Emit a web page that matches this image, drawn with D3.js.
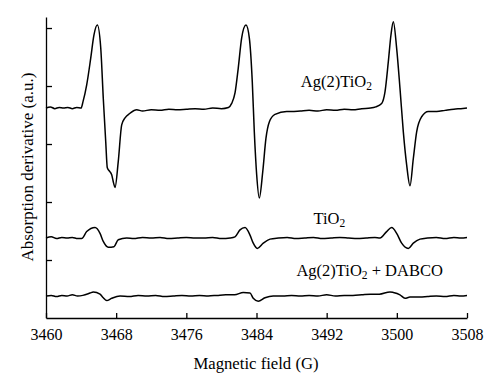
<!DOCTYPE html>
<html>
<head>
<meta charset="utf-8">
<script src="https://cdn.jsdelivr.net/npm/d3@7"></script>
<style>
  body { margin: 0; background: #fff; }
  text { font-family: "Liberation Serif", "Times New Roman", serif; fill: #000; }
  .axis path, .axis line { stroke: #000; stroke-width: 1.3; }
  .line { fill: none; stroke: #000; stroke-width: 1.5; stroke-linejoin: round; }
</style>
</head>
<body>
<script>
// x tick labels (G)
var xTicks = [3460, 3468, 3476, 3484, 3492, 3500, 3508];
// y ticks have no labels in the original (arbitrary units)
var yTicks = [1, 2, 3, 4, 5];

// spectra: [field (G), signal (a.u.)]
var agTiO2 = [
  [3460, 3.62], [3460.5, 3.64], [3461, 3.61], [3461.5, 3.63], [3462, 3.62], [3462.5, 3.63],
  [3463, 3.61], [3463.5, 3.63], [3464, 3.62], [3464.22, 3.73], [3464.64, 4.02], [3465.10, 4.48],
  [3465.47, 4.88], [3465.85, 5.05], [3466.24, 4.66], [3466.53, 3.79], [3466.81, 3.04], [3466.99, 2.59],
  [3467.30, 2.52], [3467.49, 2.47], [3467.70, 2.33], [3467.87, 2.25], [3468.24, 2.70], [3468.63, 3.33],
  [3469.01, 3.45], [3469.58, 3.53], [3470.34, 3.59], [3471, 3.57], [3472, 3.59], [3473, 3.58],
  [3474, 3.60], [3475, 3.59], [3476, 3.60], [3477, 3.61], [3478, 3.60], [3479, 3.62], [3480, 3.61],
  [3480.8, 3.63], [3481.17, 3.70], [3481.55, 3.88], [3481.92, 4.31], [3482.31, 4.83], [3482.80, 5.05],
  [3483.18, 4.83], [3483.52, 4.07], [3483.75, 3.21], [3484.02, 2.47], [3484.32, 2.07], [3484.71, 2.52],
  [3485.08, 3.10], [3485.46, 3.38], [3486.11, 3.51], [3487.44, 3.56], [3488, 3.56], [3489, 3.57],
  [3490, 3.58], [3491, 3.57], [3492, 3.59], [3493, 3.58], [3494, 3.60], [3495, 3.59], [3496, 3.61],
  [3497, 3.62], [3497.6, 3.64], [3498.27, 3.70], [3498.65, 3.90], [3499.03, 4.42], [3499.33, 4.88],
  [3499.60, 5.11], [3499.98, 4.65], [3500.36, 3.96], [3500.74, 3.21], [3501.12, 2.64], [3501.50, 2.28],
  [3501.88, 2.75], [3502.26, 3.21], [3502.83, 3.47], [3503.59, 3.56], [3504.55, 3.56], [3505.5, 3.58],
  [3506.5, 3.60], [3507.3, 3.61], [3508, 3.62]
];

var tiO2 = [
  [3460, 1.38], [3460.6, 1.40], [3461.2, 1.37], [3461.8, 1.39], [3462.4, 1.38], [3463, 1.39],
  [3463.6, 1.37], [3464.07, 1.37], [3464.64, 1.49], [3465.59, 1.56], [3466.16, 1.46], [3466.53, 1.32],
  [3467.10, 1.22], [3467.75, 1.23], [3468.24, 1.35], [3469.20, 1.38], [3470, 1.37], [3471, 1.39],
  [3472, 1.38], [3473, 1.39], [3474, 1.37], [3475, 1.38], [3476, 1.39], [3477, 1.38], [3478, 1.38],
  [3479, 1.39], [3480, 1.37], [3481, 1.38], [3481.55, 1.40], [3482.12, 1.52], [3482.69, 1.56],
  [3483.26, 1.43], [3483.63, 1.29], [3484.09, 1.20], [3484.77, 1.29], [3485.54, 1.36], [3486.5, 1.38],
  [3487.5, 1.39], [3488.5, 1.37], [3489.5, 1.38], [3490.5, 1.39], [3491.5, 1.37], [3492.5, 1.38],
  [3493.5, 1.39], [3494.5, 1.38], [3495.5, 1.37], [3496.5, 1.38], [3497.5, 1.39], [3498.08, 1.38],
  [3498.84, 1.49], [3499.41, 1.56], [3499.98, 1.46], [3500.55, 1.29], [3501.31, 1.20], [3501.88, 1.29],
  [3502.64, 1.36], [3503.5, 1.38], [3504.5, 1.39], [3505.5, 1.37], [3506.5, 1.39], [3507.3, 1.38],
  [3508, 1.39]
];

var agTiO2Dabco = [
  [3460, 0.38], [3460.6, 0.39], [3461.2, 0.37], [3461.8, 0.39], [3462.4, 0.38], [3463, 0.40],
  [3463.6, 0.38], [3464.2, 0.39], [3465.02, 0.43], [3465.39, 0.45], [3466.16, 0.41], [3466.53, 0.35],
  [3466.92, 0.30], [3467.49, 0.34], [3468.44, 0.38], [3469.5, 0.37], [3470.5, 0.39], [3471.5, 0.38],
  [3472.5, 0.39], [3473.5, 0.37], [3474.5, 0.38], [3475.5, 0.39], [3476.5, 0.38], [3477.5, 0.39],
  [3478.5, 0.38], [3479.5, 0.39], [3480.5, 0.40], [3481.5, 0.40], [3482.49, 0.44], [3483.26, 0.43],
  [3483.63, 0.34], [3484.20, 0.29], [3484.97, 0.35], [3485.91, 0.38], [3487, 0.38], [3488, 0.39],
  [3489, 0.38], [3490, 0.39], [3491, 0.38], [3492, 0.40], [3493, 0.38], [3494, 0.39], [3495, 0.39],
  [3496, 0.40], [3497, 0.41], [3498, 0.41], [3499.22, 0.45], [3499.60, 0.44], [3500.36, 0.40],
  [3500.93, 0.34], [3501.50, 0.36], [3502.64, 0.36], [3503.5, 0.37], [3504.5, 0.38], [3505.5, 0.37],
  [3506.5, 0.39], [3507.3, 0.38], [3508, 0.39]
];

var seriesNames = ["Ag(2)TiO", "TiO", "Ag(2)TiO"];
var seriesSuffix = ["", "", " + DABCO"];
// where each name sits (centre, baseline), in data units
var labelPos = [[3493.1, 3.98], [3492.3, 1.62], [3496.9, 0.72]];

var margin = {top: 17, right: 33, bottom: 73, left: 46},
    width = 500 - margin.left - margin.right,
    height = 391 - margin.top - margin.bottom;

var x = d3.scaleLinear()
    .domain([3460, 3508])
    .range([0, width]);

var y = d3.scaleLinear()
    .domain([0, 5.19])
    .range([height, 0]);

var xAxis = d3.axisBottom(x)
    .tickValues(xTicks)
    .tickSizeInner(-5)
    .tickSizeOuter(0)
    .tickPadding(11)
    .tickFormat(d3.format("d"));

var yAxis = d3.axisLeft(y)
    .tickValues(yTicks)
    .tickSizeInner(-6)
    .tickSizeOuter(0)
    .tickFormat("");

var svg = d3.select("body").append("svg")
    .attr("width", width + margin.left + margin.right)
    .attr("height", height + margin.top + margin.bottom)
  .append("g")
    .attr("transform", "translate(" + margin.left + "," + margin.top + ")");

var line = d3.line()
    .x(function(d) { return x(d[0]); })
    .y(function(d) { return y(d[1]); })
    .curve(d3.curveMonotoneX);

[agTiO2, tiO2, agTiO2Dabco].forEach(function(s) {
  svg.append("path")
      .datum(s)
      .attr("class", "line")
      .attr("d", line);
});

svg.append("g")
    .attr("class", "x axis")
    .attr("transform", "translate(0," + height + ")")
    .call(xAxis)
    .selectAll("text")
    .style("font-size", "16px")
    .style("font-family", "Liberation Serif");

svg.append("g")
    .attr("class", "y axis")
    .call(yAxis);

// series labels with subscript 2
seriesNames.forEach(function(name, i) {
  var t = svg.append("text")
      .attr("x", x(labelPos[i][0]))
      .attr("y", y(labelPos[i][1]))
      .attr("text-anchor", "middle")
      .style("font-size", "16.5px");
  t.append("tspan").text(name);
  t.append("tspan").attr("dy", 3).style("font-size", "11.5px").text("2");
  if (seriesSuffix[i]) {
    t.append("tspan").attr("dy", -3).text(seriesSuffix[i]);
  }
});

svg.append("text")
    .attr("x", 256 - margin.left)
    .attr("y", height + 51)
    .attr("text-anchor", "middle")
    .style("font-size", "16.7px")
    .text("Magnetic field (G)");

svg.append("text")
    .attr("transform", "rotate(-90)")
    .attr("x", -(150))
    .attr("y", -13)
    .attr("text-anchor", "middle")
    .style("font-size", "17px")
    .text("Absorption derivative (a.u.)");
</script>
</body>
</html>
